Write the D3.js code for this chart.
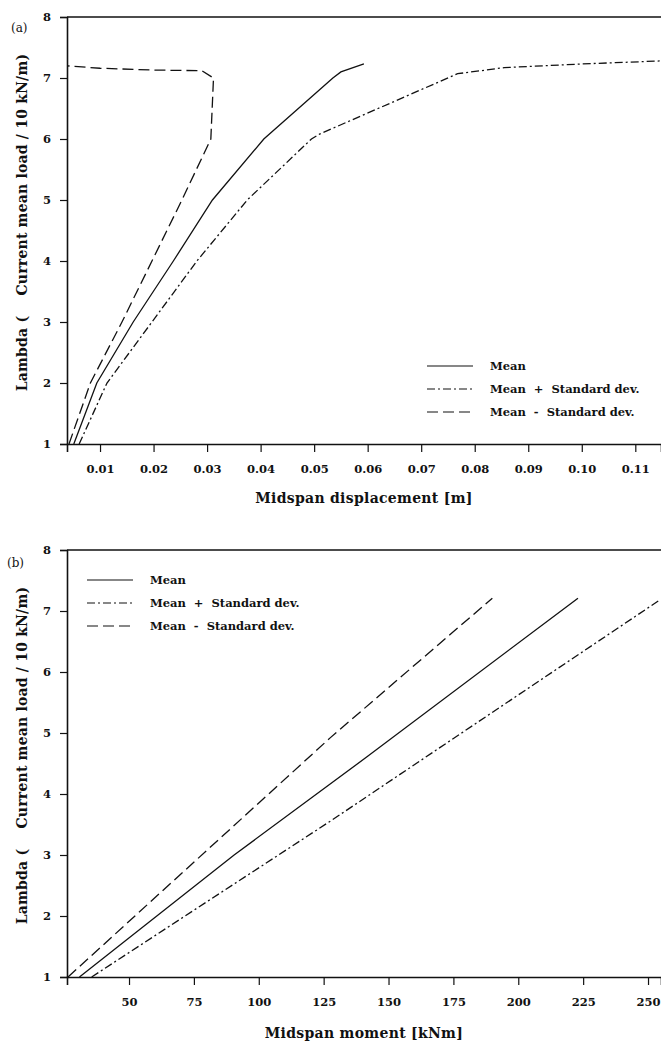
<!DOCTYPE html>
<html><head><meta charset="utf-8">
<script src="https://cdn.jsdelivr.net/npm/d3@7"></script>
<style>
html,body{margin:0;padding:0;background:#fff;}
svg text{font-family:"DejaVu Serif",serif;fill:#111;}
</style></head>
<body>
<svg id="c" width="661" height="1043"></svg>
<script>
// ---------- DATA ----------
const seriesNames = ["Mean", "Mean + Standard dev.", "Mean - Standard dev."];
const yTicks = [1, 2, 3, 4, 5, 6, 7, 8];
const xTicksA = [0.01, 0.02, 0.03, 0.04, 0.05, 0.06, 0.07, 0.08, 0.09, 0.10, 0.11];
const xTicksB = [50, 75, 100, 125, 150, 175, 200, 225, 250];

// (a) displacement [m] vs lambda
const dispMean = [[0.0051,1],[0.0094,2],[0.0162,3],[0.0237,4],[0.031,5],[0.0406,6],[0.0535,7],[0.055,7.1],[0.0593,7.23]];
const dispPlus = [[0.0061,1],[0.0113,2],[0.0197,3],[0.0281,4],[0.0375,5],[0.0495,6],[0.051,6.08],[0.0768,7.07],[0.0855,7.17],[0.10,7.23],[0.1148,7.28]];
const dispMinus = [[0.0042,1],[0.0082,2],[0.0141,3],[0.0197,4],[0.0253,5],[0.0307,6],[0.0312,7.0],[0.029,7.12],[0.020,7.13],[0.010,7.16],[0.00383,7.2]];

// (b) moment [kNm] vs lambda
const momMean = [[30.9,1],[90.5,3],[141.7,4.61],[223,7.21]];
const momPlus = [[35.6,1],[127.4,3.55],[254.5,7.18]];
const momMinus = [[26.5,1],[127.5,4.92],[190,7.21]];

// ---------- DRAW ----------
const svg = d3.select("#c");
const styles = [
  {dash: null},
  {dash: "8,3,2,3"},
  {dash: "11,5"}
];

function panel(cfg){
  const g = svg.append("g");
  const x = d3.scaleLinear().domain(cfg.xDomain).range([67, 661]);
  const y = d3.scaleLinear().domain([1, 8]).range([cfg.bottom, cfg.top]);

  g.append("line").attr("x1",67).attr("x2",661).attr("y1",cfg.top).attr("y2",cfg.top)
    .attr("stroke","#111").attr("stroke-width",1.3);

  const ya = g.append("g").attr("transform","translate(67,0)")
    .call(d3.axisLeft(y).tickValues(yTicks).tickFormat(d3.format("d")).tickSize(7).tickPadding(9));
  ya.select(".domain").attr("stroke","#111").attr("stroke-width",1.6);
  ya.selectAll(".tick line").attr("stroke","#111").attr("stroke-width",1.2);
  ya.selectAll(".tick text").attr("font-family","DejaVu Serif").attr("font-weight","bold")
    .attr("font-size",11.5).attr("fill","#111");

  const xa = g.append("g").attr("transform",`translate(0,${cfg.bottom})`)
    .call(d3.axisBottom(x).tickValues(cfg.xTicks).tickFormat(cfg.fmt).tickSize(8).tickPadding(0));
  xa.select(".domain").attr("stroke","#111").attr("stroke-width",1.6);
  xa.selectAll(".tick line").attr("stroke","#111").attr("stroke-width",1.2);
  xa.selectAll(".tick text").attr("font-family","DejaVu Serif").attr("font-weight","bold")
    .attr("font-size",11.5).attr("fill","#111").attr("dy",null).attr("y",29);

  const line = d3.line().x(d => x(d[0])).y(d => y(d[1]));
  cfg.series.forEach((s, i) => {
    g.append("path").datum(s).attr("d", line).attr("fill","none")
      .attr("stroke","#111").attr("stroke-width",1.3)
      .attr("stroke-dasharray", styles[i].dash);
  });

  seriesNames.forEach((name, i) => {
    const ly = cfg.legY + i * 23;
    g.append("line").attr("x1", cfg.legX).attr("x2", cfg.legX + 46)
      .attr("y1", ly).attr("y2", ly).attr("stroke","#111").attr("stroke-width",1.2)
      .attr("stroke-dasharray", styles[i].dash);
    g.append("text").attr("x", cfg.legX + 63).attr("y", ly + 4)
      .attr("font-weight","bold").attr("font-size",11.5).attr("xml:space","preserve")
      .text(name.replace(" + ", "  +  ").replace(" - ", "  -  "));
  });

  g.append("text").attr("x", 364).attr("y", cfg.xTitleY).attr("text-anchor","middle")
    .attr("font-weight","bold").attr("font-size",14).attr("letter-spacing",0.3).text(cfg.xTitle);
  const ymid = (cfg.top + cfg.bottom) / 2 - 8;
  g.append("text").attr("transform",`translate(27,${ymid}) rotate(-90)`).attr("text-anchor","middle")
    .attr("font-weight","bold").attr("font-size",14).attr("letter-spacing",0.2)
    .attr("xml:space","preserve").style("white-space","pre")
    .text("Lambda (    Current mean load / 10 kN/m)");

  g.append("text").attr("x", cfg.tagX).attr("y", cfg.tagY).attr("font-size",12).text(cfg.tag);
}

panel({top:17, bottom:444, xDomain:[0.00383, 0.1148], xTicks:xTicksA, fmt:d3.format(".2f"),
  series:[dispMean, dispPlus, dispMinus], legX:427, legY:366,
  xTitle:"Midspan displacement [m]", xTitleY:503, tag:"(a)", tagX:11, tagY:32});

panel({top:550, bottom:977, xDomain:[26.1, 255], xTicks:xTicksB, fmt:d3.format("d"),
  series:[momMean, momPlus, momMinus], legX:87, legY:580,
  xTitle:"Midspan moment [kNm]", xTitleY:1038, tag:"(b)", tagX:7, tagY:567});
</script>
</body></html>
